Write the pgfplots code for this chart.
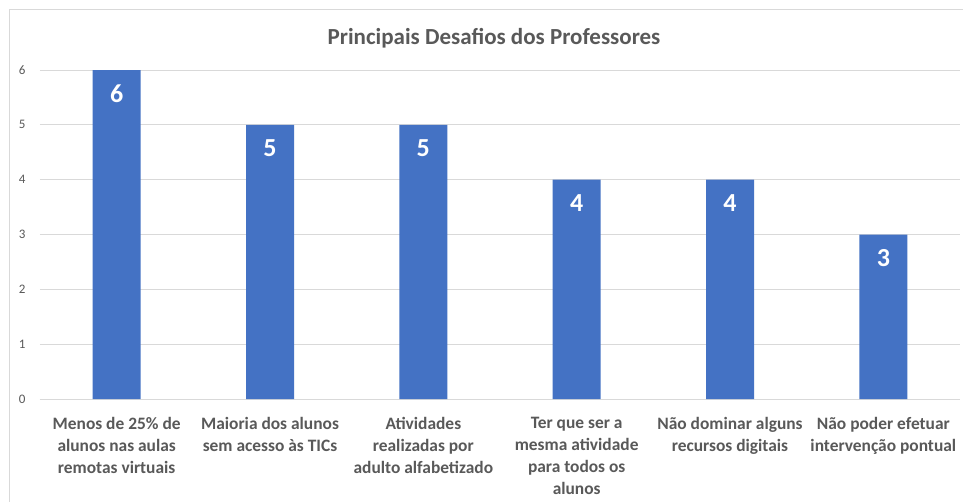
\documentclass[border=0pt]{standalone}
\usepackage{pgfplots}
\pgfplotsset{compat=1.18}
\usepackage{fontspec}
\setmainfont{Carlito}
\definecolor{barblue}{HTML}{4472C4}
\definecolor{txtgray}{HTML}{595959}
\definecolor{gridgray}{HTML}{D9D9D9}
\begin{document}
\begin{tikzpicture}[x=1pt,y=1pt]
\useasboundingbox (0,0) rectangle (963,501);
\fill[white] (0,0) rectangle (963,501);
\draw[gridgray,line width=1pt] (9,-5) -- (9,491) -- (970,491);
\node[text=txtgray,font=\fontsize{23}{26}\selectfont\bfseries] at (494,463) {Principais Desafios dos Professores};
\begin{axis}[
  at={(40pt,102pt)}, anchor=south west,
  scale only axis, width=920pt, height=329pt,
  xmin=-0.5, xmax=5.5, ymin=0, ymax=6,
  ytick={0,1,2,3,4,5,6},
  xtick={0,1,2,3,4,5},
  xticklabels={{Menos de 25\% de\\alunos nas aulas\\remotas virtuais},{Maioria dos alunos\\sem acesso às TICs},{Atividades\\realizadas por\\adulto alfabetizado},{Ter que ser a\\mesma atividade\\para todos os\\alunos},{Não dominar alguns\\recursos digitais},{Não poder efetuar\\intervenção pontual}},
  xticklabel style={align=center, font=\fontsize{17.4}{22}\selectfont\bfseries, text=txtgray, anchor=north, yshift=-15pt},
  yticklabel style={font=\fontsize{13}{15}\selectfont, text=txtgray, xshift=-11pt},
  /pgf/number format/assume math mode=true,
  axis x line*=bottom,
  axis y line*=left,
  x axis line style={draw=gridgray, line width=1pt, -},
  y axis line style={draw=none},
  ymajorgrids, grid style={gridgray, line width=1pt},
  major tick length=0pt,
  ybar, bar width=48pt,
  nodes near coords,
  nodes near coords align={anchor=north},
  every node near coord/.append style={text=white, font=\fontsize{26}{30}\selectfont\bfseries, yshift=-11pt},
  clip=false,
]
\addplot[fill=barblue, draw=none] coordinates {(0,6) (1,5) (2,5) (3,4) (4,4) (5,3)};
\end{axis}
\end{tikzpicture}
\end{document}
